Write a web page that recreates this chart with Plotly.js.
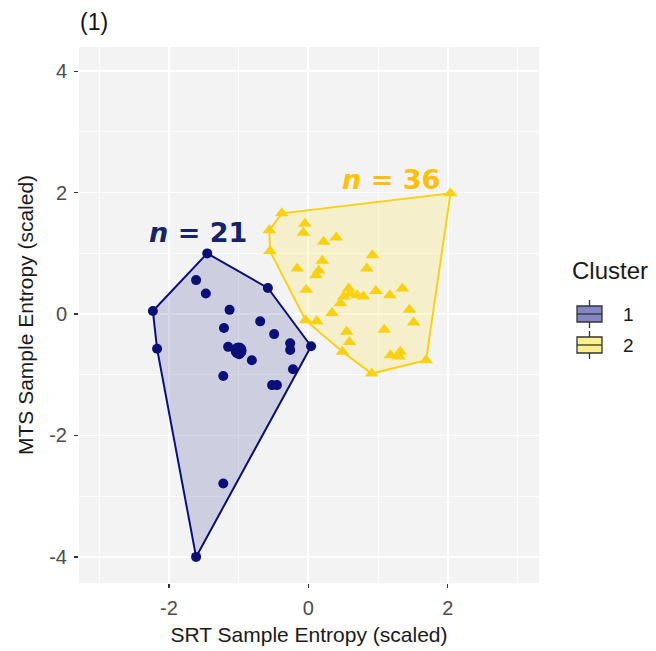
<!DOCTYPE html>
<html>
<head>
<meta charset="utf-8">
<script src="https://cdn.plot.ly/plotly-3.0.1.min.js"></script>
<style>html,body{margin:0;padding:0;background:#fff;}#chart{width:656px;height:651px;}</style>
</head>
<body>
<div id="chart"></div>
<script>
// Cluster 1 (SRT, MTS scaled)
const c1x = [-1.45,-1.61,-1.47,-0.58,-2.23,-1.13,-0.69,-1.21,-0.49,-2.17,0.04,-0.26,-0.26,-1.15,-1.03,-0.97,-0.99,-0.81,-0.22,-1.22,-0.52,-0.45,-1.22,-1.61];
const c1y = [1.00,0.56,0.34,0.43,0.05,0.07,-0.12,-0.23,-0.33,-0.57,-0.53,-0.48,-0.59,-0.54,-0.58,-0.62,-0.66,-0.76,-0.91,-1.02,-1.17,-1.17,-2.79,-4.00];
// Cluster 2
const c2x = [2.04,-0.38,-0.56,-0.05,-0.07,0.22,0.40,-0.55,0.92,0.20,-0.16,0.84,0.15,0.11,-0.03,0.58,0.60,0.70,0.79,0.51,0.97,1.17,1.35,0.46,0.34,1.45,-0.04,0.12,1.51,0.55,0.59,1.09,0.49,1.18,1.32,1.30,1.69,0.91];
const c2y = [1.99,1.66,1.38,1.49,1.34,1.19,1.26,1.04,0.97,0.88,0.75,0.75,0.72,0.64,0.40,0.42,0.34,0.31,0.29,0.29,0.38,0.31,0.42,0.18,0.02,0.07,-0.10,-0.12,-0.14,-0.29,-0.46,-0.26,-0.62,-0.68,-0.62,-0.70,-0.76,-0.98];
// Cluster 1 centroid (larger dot)
const c1cx = [-1.0];
const c1cy = [-0.6];
const clusterNames = ['1','2'];
const nLabels = ['21','36'];
const xTicks = [-2,0,2];
const yTicks = [-4,-2,0,2,4];

function hull(xs, ys){
  const p = xs.map((x,i)=>[x,ys[i]]).sort((a,b)=>a[0]-b[0]||a[1]-b[1]);
  const cr=(o,a,b)=>(a[0]-o[0])*(b[1]-o[1])-(a[1]-o[1])*(b[0]-o[0]);
  const lo=[],up=[];
  for(const q of p){while(lo.length>=2&&cr(lo[lo.length-2],lo[lo.length-1],q)<=0)lo.pop();lo.push(q);}
  for(let i=p.length-1;i>=0;i--){const q=p[i];while(up.length>=2&&cr(up[up.length-2],up[up.length-1],q)<=0)up.pop();up.push(q);}
  up.pop();lo.pop();
  const h=lo.concat(up);h.push(h[0]);
  return {x:h.map(q=>q[0]), y:h.map(q=>q[1])};
}
const h1 = hull(c1x,c1y), h2 = hull(c2x,c2y);

const navy = '#0b0f78', gold = '#F8D210';
const traces = [
  {x:h1.x,y:h1.y,mode:'lines',fill:'toself',fillcolor:'rgba(20,25,130,0.17)',line:{color:navy,width:2},hoverinfo:'skip',showlegend:false},
  {x:h2.x,y:h2.y,mode:'lines',fill:'toself',fillcolor:'rgba(255,215,0,0.16)',line:{color:gold,width:2},hoverinfo:'skip',showlegend:false},
  {x:c1x,y:c1y,mode:'markers',marker:{symbol:'circle',size:10,color:navy},showlegend:false,name:clusterNames[0]},
  {x:c1cx,y:c1cy,mode:'markers',marker:{symbol:'circle',size:16,color:navy},showlegend:false},
  {x:c2x,y:c2y,mode:'markers',marker:{symbol:'triangle-up',size:12,color:gold},showlegend:false,name:clusterNames[1]}
];

// plot area in px
const L=79,R=539,T=47,B=583;
const px=v=>(v-L)/(R-L), py=v=>(B-v)/(B-T);
const shapes=[], anns=[];
const legendItems=[{fill:'#8286c4',yc:314},{fill:'#fdf08c',yc:345}];
legendItems.forEach((it,i)=>{
  shapes.push({type:'line',xref:'paper',yref:'paper',x0:px(589.5),x1:px(589.5),y0:py(it.yc-14),y1:py(it.yc+14),line:{color:'#333',width:1.3}});
  shapes.push({type:'rect',xref:'paper',yref:'paper',x0:px(577),x1:px(602),y0:py(it.yc-8),y1:py(it.yc+8),fillcolor:it.fill,line:{color:'#333',width:1.3}});
  shapes.push({type:'line',xref:'paper',yref:'paper',x0:px(577),x1:px(602),y0:py(it.yc),y1:py(it.yc),line:{color:'#333',width:1.3}});
  anns.push({xref:'paper',yref:'paper',x:px(621),y:py(it.yc),xanchor:'left',yanchor:'middle',text:clusterNames[i],showarrow:false,font:{family:'Liberation Sans, Arial',size:19,color:'#1a1a1a'}});
});
anns.push({xref:'paper',yref:'paper',x:px(570),y:py(270),xanchor:'left',yanchor:'middle',text:'Cluster',showarrow:false,font:{family:'Liberation Sans, Arial',size:24,color:'#1a1a1a'}});
anns.push({xref:'paper',yref:'paper',x:px(78),y:py(22),xanchor:'left',yanchor:'middle',text:'(1)',showarrow:false,font:{family:'Liberation Sans, Arial',size:23,color:'#111'}});
anns.push({xref:'paper',yref:'paper',x:px(25),y:py(315),xanchor:'center',yanchor:'middle',textangle:-90,text:'MTS Sample Entropy (scaled)',showarrow:false,font:{family:'Liberation Sans, Arial',size:21,color:'#1a1a1a'}});
anns.push({x:-1.58,y:1.35,xref:'x',yref:'y',text:'<b><i>n</i> = '+nLabels[0]+'</b>',showarrow:false,font:{family:'DejaVu Sans',size:27,color:'#15246a'}});
anns.push({x:1.18,y:2.21,xref:'x',yref:'y',text:'<b><i>n</i> = '+nLabels[1]+'</b>',showarrow:false,font:{family:'DejaVu Sans',size:27,color:'#FFC000'}});

const axisCommon = {
  showgrid:true,gridcolor:'#ffffff',gridwidth:1.6,zeroline:false,
  ticks:'outside',ticklen:4,tickwidth:1.3,tickcolor:'#333',ticklabelstandoff:3,
  tickfont:{family:'Liberation Sans, Arial',size:20,color:'#4d4d4d'},
  showline:false,automargin:false
};
const layout = {
  width:656,height:651,
  margin:{l:L,r:656-R,t:T,b:651-B},
  paper_bgcolor:'#ffffff',plot_bgcolor:'#f3f3f3',
  showlegend:false,
  xaxis:Object.assign({},axisCommon,{range:[-3.29,3.31],tickvals:xTicks,ticktext:xTicks.map(String),minor:{showgrid:true,gridcolor:'#ffffff',gridwidth:0.8,tickvals:[-3,-1,1,3]},
    title:{text:'SRT Sample Entropy (scaled)',font:{family:'Liberation Sans, Arial',size:21,color:'#1a1a1a'},standoff:9}}),
  yaxis:Object.assign({},axisCommon,{range:[-4.43,4.40],tickvals:yTicks,ticktext:yTicks.map(String),minor:{showgrid:true,gridcolor:'#ffffff',gridwidth:0.8,tickvals:[-3,-1,1,3]}}),
  shapes:shapes,annotations:anns
};
Plotly.newPlot('chart',traces,layout,{displayModeBar:false,staticPlot:true});
</script>
</body>
</html>
